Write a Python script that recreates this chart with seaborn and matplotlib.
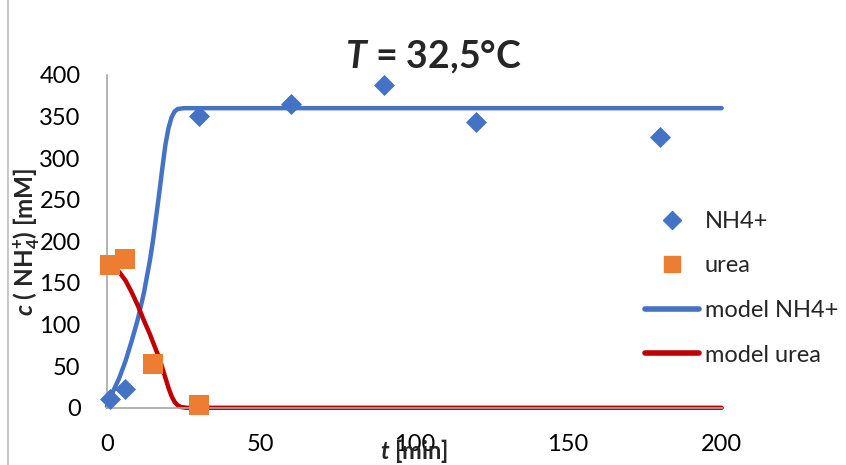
import pandas as pd
import matplotlib
matplotlib.use('Agg')
import matplotlib.pyplot as plt
from matplotlib.lines import Line2D
import seaborn as sns

# measured points
t_nh4 = [1, 6, 30, 60, 90, 120, 180]
c_nh4 = [11, 22, 350, 365, 388, 343, 325]

t_urea = [1, 6, 15, 30]
c_urea = [172, 179, 53, 3]

# model curves
t_model_nh4 = [0, 2, 4, 6, 8, 10, 12, 14, 15, 16, 17, 18, 19, 20, 21, 22, 23, 25, 200]
c_model_nh4 = [2, 20, 36, 56, 80, 106, 138, 178, 202, 230, 258, 288, 316, 336, 349, 356, 359, 360, 360]

t_model_urea = [0, 2, 4, 6, 8, 10, 12, 14, 16, 17, 18, 19, 20, 21, 22, 23, 24, 26, 200]
c_model_urea = [172, 170, 163, 153, 139, 123, 105, 88, 69, 60, 48, 36, 24, 14, 7, 3, 1, 0, 0]

x_ticks = [0, 50, 100, 150, 200]
y_ticks = [0, 50, 100, 150, 200, 250, 300, 350, 400]

BLUE = "#4472C4"
ORANGE = "#ED7D31"
RED = "#C00000"
GRAY = "#A6A6A6"

sns.set_theme(style="white")
plt.rcParams['font.family'] = ['Lato', 'DejaVu Sans']
plt.rcParams['mathtext.fontset'] = 'custom'
plt.rcParams['mathtext.rm'] = 'Lato'
plt.rcParams['mathtext.it'] = 'Lato:italic'
plt.rcParams['mathtext.bf'] = 'Lato:bold'
plt.rcParams['mathtext.bfit'] = 'Lato:italic:bold'

fig = plt.figure(figsize=(8.46, 4.65), dpi=100)
ax = fig.add_axes([0.1265, 0.123, 0.7265, 0.716])

df_model_nh4 = pd.DataFrame({"t": t_model_nh4, "c": c_model_nh4})
df_model_urea = pd.DataFrame({"t": t_model_urea, "c": c_model_urea})
df_nh4 = pd.DataFrame({"t": t_nh4, "c": c_nh4})
df_urea = pd.DataFrame({"t": t_urea, "c": c_urea})

sns.lineplot(data=df_model_nh4, x="t", y="c", color=BLUE, linewidth=3.2,
             ax=ax, clip_on=False, zorder=2)
sns.lineplot(data=df_model_urea, x="t", y="c", color=RED, linewidth=3.2,
             ax=ax, clip_on=False, zorder=2)
sns.scatterplot(data=df_nh4, x="t", y="c", marker="D", s=115, color=BLUE,
                edgecolor=BLUE, linewidth=0, ax=ax, clip_on=False, zorder=3)
sns.scatterplot(data=df_urea, x="t", y="c", marker="s", s=200, color=ORANGE,
                edgecolor=ORANGE, linewidth=0, ax=ax, clip_on=False, zorder=3)

ax.set_xlim(0, 200)
ax.set_ylim(0, 400)
ax.set_xticks(x_ticks)
ax.set_yticks(y_ticks)
ax.tick_params(axis='both', labelsize=17, colors=GRAY, labelcolor='black',
               length=8, width=1.2, direction='out')
ax.tick_params(axis='x', pad=11)
ax.tick_params(axis='y', pad=11)
for side in ['top', 'right']:
    ax.spines[side].set_visible(False)
for side in ['left', 'bottom']:
    ax.spines[side].set_color(GRAY)
    ax.spines[side].set_linewidth(1.2)

# the x label sits low and overlaps the "100" tick, as in the original
ax.set_xlabel(r"$\mathbfit{t}$ [min]", fontsize=17, fontweight='bold')
ax.set_ylabel(r"$\mathbfit{c}$ ( NH$_{\mathbf{4}}^{\mathbf{+}}$) [mM]",
              fontsize=17.5, fontweight='bold')
ax.xaxis.set_label_coords(0.5, -0.088)
ax.yaxis.set_label_coords(-0.106, 0.5)

fig.text(0.512, 0.877, r"$\mathbfit{T}$ = 32,5°C", fontsize=27,
         fontweight='bold', ha='center', va='center')

handles = [
    Line2D([], [], marker='D', color=BLUE, linestyle='none', markersize=9),
    Line2D([], [], marker='s', color=ORANGE, linestyle='none', markersize=12),
    Line2D([], [], color=BLUE, linewidth=4),
    Line2D([], [], color=RED, linewidth=4),
]
labels = ["NH4+", "urea", "model NH4+", "model urea"]
fig.legend(handles, labels, loc='center left', bbox_to_anchor=(0.762, 0.38),
           frameon=False, fontsize=17, handlelength=2.3, handletextpad=0.25,
           labelspacing=1.0, borderpad=0, borderaxespad=0)

fig.add_artist(Line2D([0.009, 0.009], [0, 1], color="#BFBFBF", linewidth=1.2,
                      transform=fig.transFigure))

fig.savefig("out.png", dpi=100)
